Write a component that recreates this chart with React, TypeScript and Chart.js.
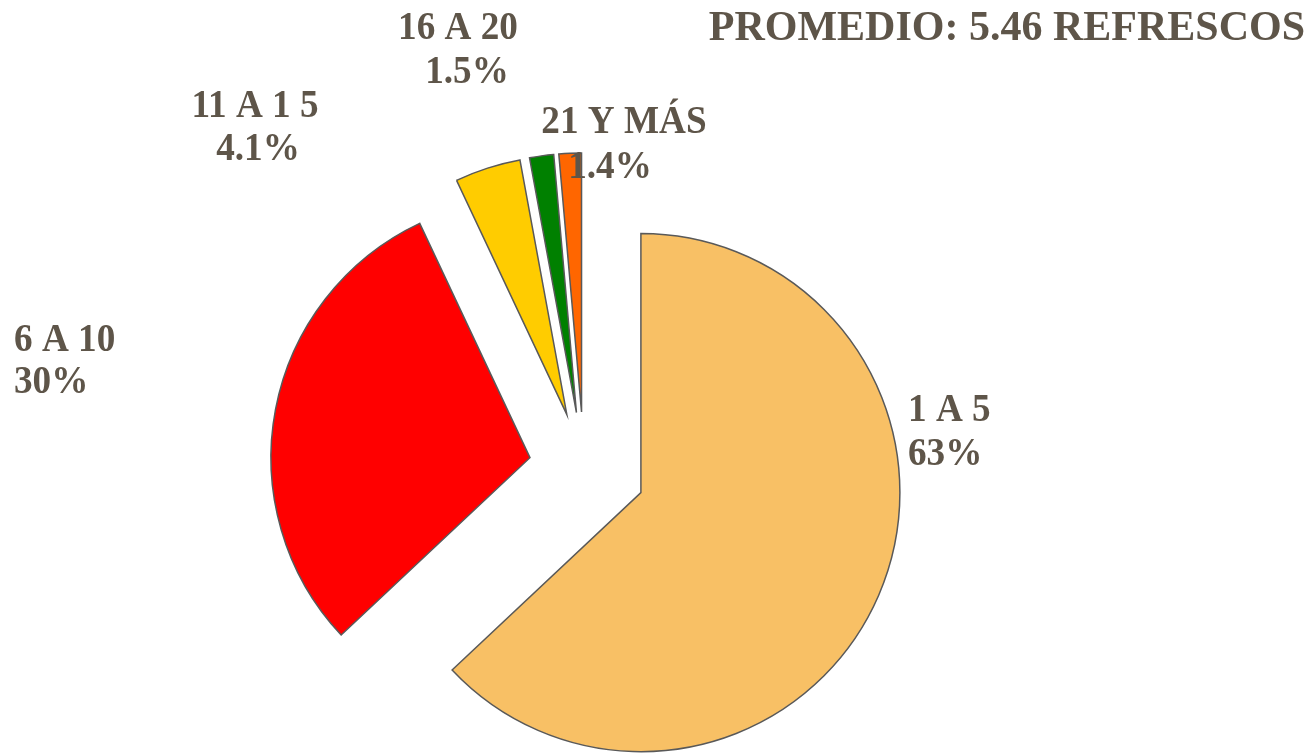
import React, { useEffect, useRef } from "react";
import { Chart, registerables } from "chart.js";

Chart.register(...registerables);

// ---- data ----
const categories: string[] = ["1 A 5", "6 A 10", "11 A 1 5", "16 A 20", "21 Y MÁS"];
const percentages: number[] = [63, 30, 4.1, 1.5, 1.4];
const titleText = "PROMEDIO: 5.46 REFRESCOS";

// ---- style ----
const sliceColors: string[] = ["#F8C065", "#FF0000", "#FFCC00", "#008000", "#FF6600"];
const explodeDistance: number[] = [62, 55, 56, 56, 56];
const textColor = "#5E5549";
const labelFont = 'bold 40px "Liberation Serif", "Times New Roman", serif';
const labelStretchX = 0.93;
const titleFont = 'bold 42px "Liberation Serif", "Times New Roman", serif';
// per label: alignment and the two line anchor points (name line, percent line)
const labelLayout: { align: CanvasTextAlign; lines: [number, number][] }[] = [
  { align: "left", lines: [[908, 421], [908, 465]] },
  { align: "left", lines: [[14, 351], [14, 393]] },
  { align: "center", lines: [[255, 117], [258, 160]] },
  { align: "center", lines: [[458, 39], [467, 83]] },
  { align: "center", lines: [[624, 133], [610, 178]] },
];

const explodePlugin = {
  id: "explodeSlices",
  afterDatasetsUpdate(chart: any) {
    const meta = chart.getDatasetMeta(0);
    const area = chart.chartArea;
    const cx = (area.left + area.right) / 2;
    const cy = (area.top + area.bottom) / 2;
    meta.data.forEach((arc: any, i: number) => {
      const mid = (arc.startAngle + arc.endAngle) / 2;
      const d = explodeDistance[i] || 0;
      arc.x = cx + Math.cos(mid) * d;
      arc.y = cy + Math.sin(mid) * d;
    });
  },
};

function drawStretched(ctx: CanvasRenderingContext2D, text: string, x: number, y: number) {
  ctx.save();
  ctx.translate(x, y);
  ctx.scale(labelStretchX, 1);
  ctx.fillText(text, 0, 0);
  ctx.restore();
}

const labelPlugin = {
  id: "sliceLabels",
  afterDatasetsDraw(chart: any) {
    const ctx: CanvasRenderingContext2D = chart.ctx;
    ctx.save();
    ctx.fillStyle = textColor;
    ctx.textBaseline = "alphabetic";
    ctx.font = labelFont;
    categories.forEach((cat, i) => {
      const lay = labelLayout[i];
      ctx.textAlign = lay.align;
      drawStretched(ctx, cat, lay.lines[0][0], lay.lines[0][1]);
      drawStretched(ctx, `${percentages[i]}%`, lay.lines[1][0], lay.lines[1][1]);
    });
    ctx.font = titleFont;
    ctx.textAlign = "right";
    ctx.fillText(titleText, 1305, 40);
    ctx.restore();
  },
};

export default function App() {
  const canvasRef = useRef<HTMLCanvasElement | null>(null);

  useEffect(() => {
    if (!canvasRef.current) return;
    const chart = new Chart(canvasRef.current, {
      type: "pie",
      data: {
        labels: categories,
        datasets: [
          {
            data: percentages,
            backgroundColor: sliceColors,
            borderColor: "#595959",
            borderWidth: 1.5,
            borderJoinStyle: "miter",
          } as any,
        ],
      },
      options: {
        animation: false,
        responsive: false,
        radius: 259,
        layout: { padding: { left: 0, right: 147, top: 181, bottom: 0 } },
        plugins: {
          legend: { display: false },
          tooltip: { enabled: false },
          title: { display: false },
        },
      } as any,
      plugins: [explodePlugin, labelPlugin],
    });
    return () => chart.destroy();
  }, []);

  return (
    <div style={{ position: "fixed", left: 0, top: 0, width: 1315, height: 755, background: "#fff" }}>
      <canvas ref={canvasRef} width={1315} height={755} style={{ display: "block" }} />
    </div>
  );
}
